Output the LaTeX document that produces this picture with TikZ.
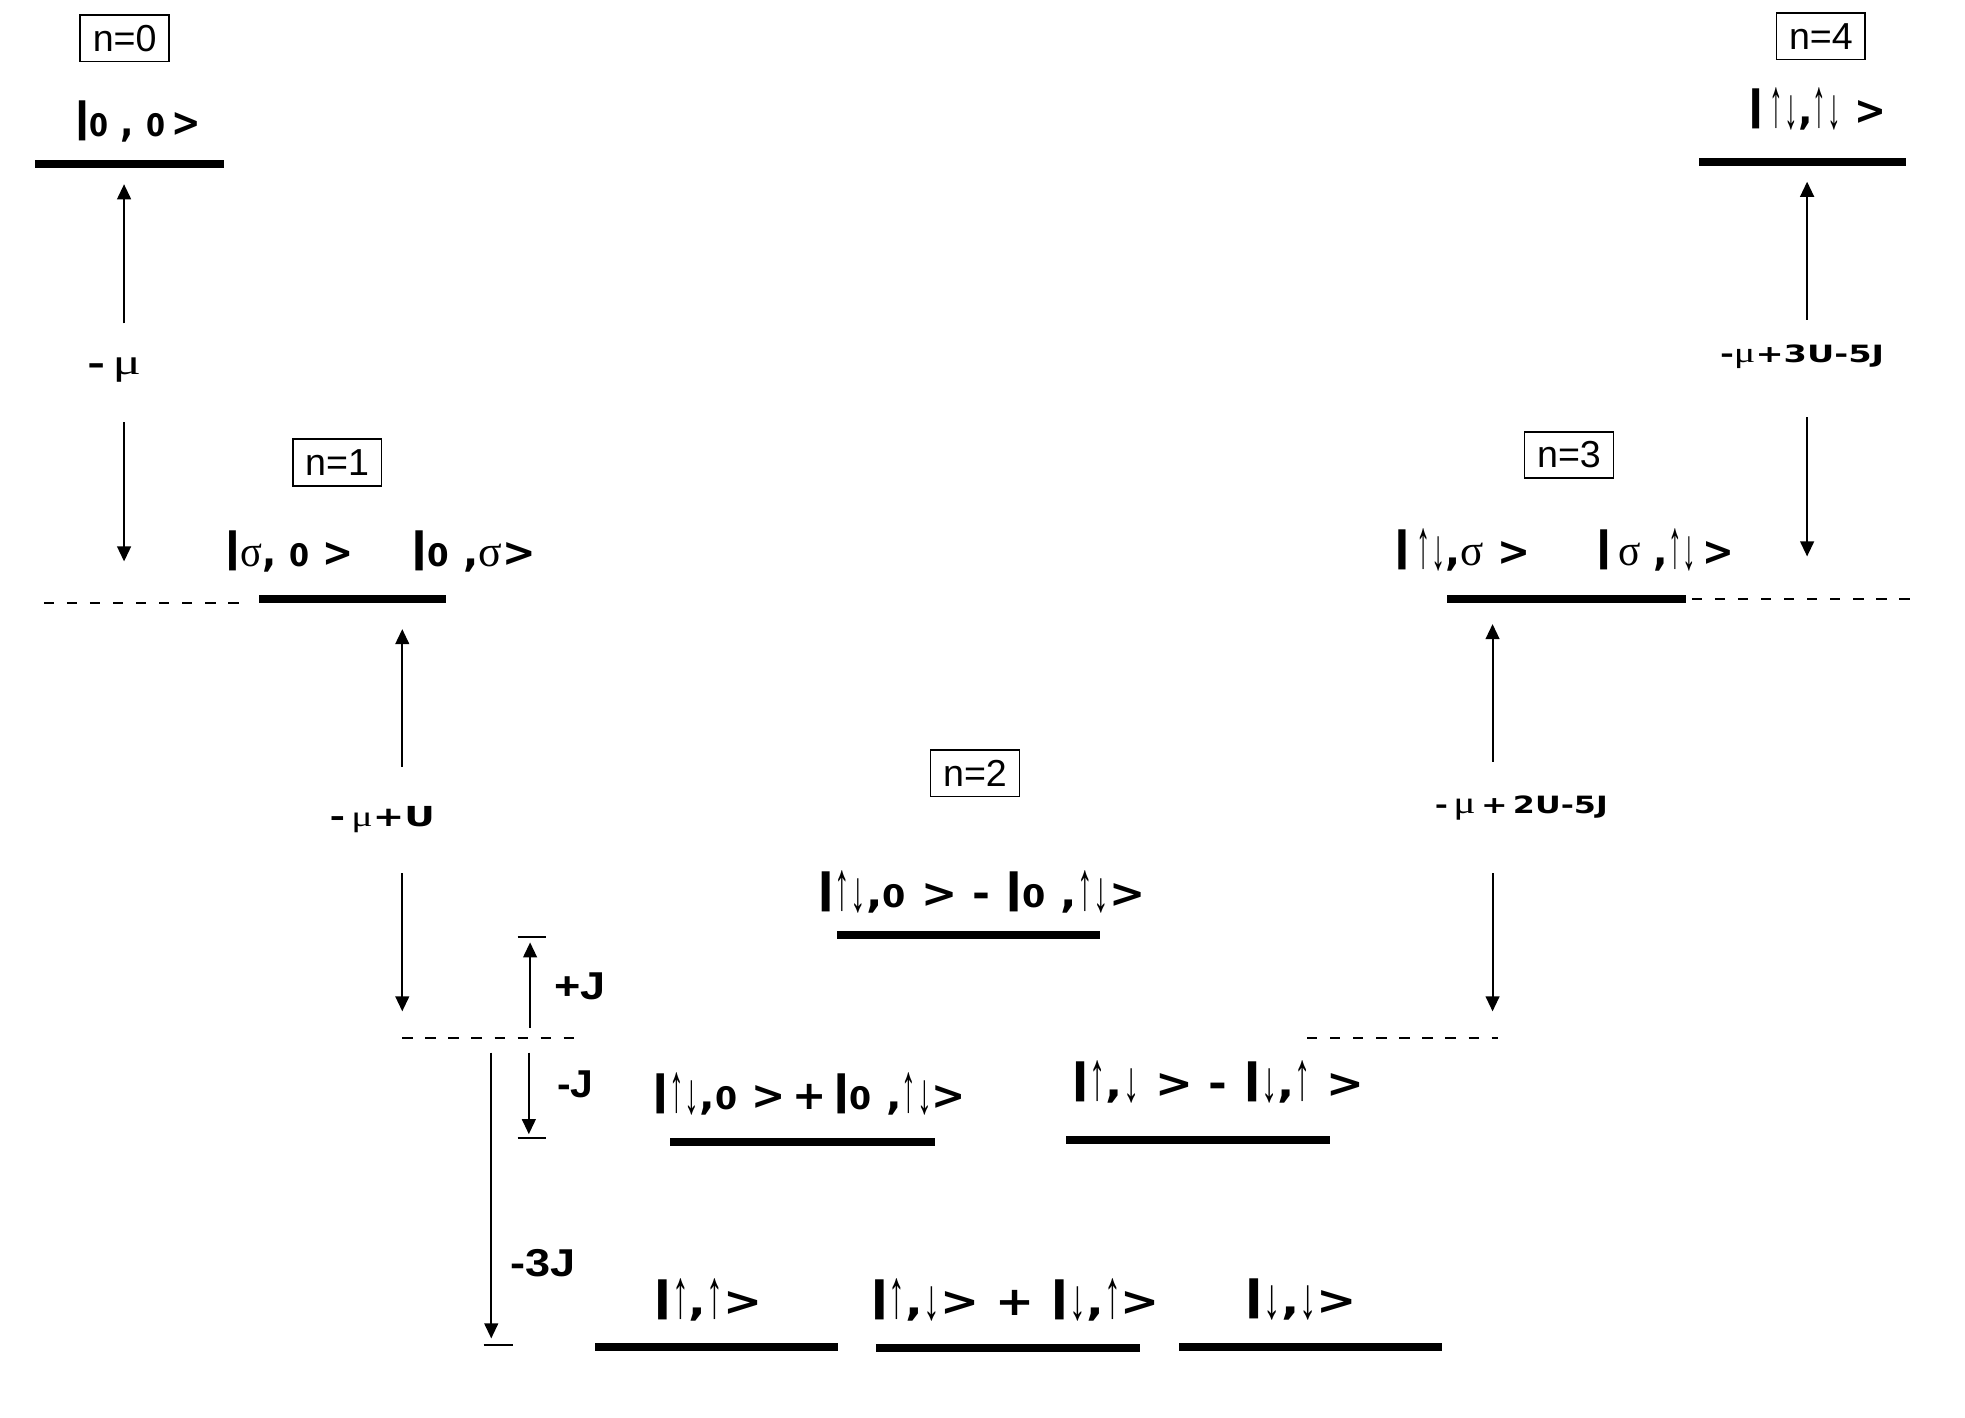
\documentclass[tikz,border=0pt]{standalone}
\usepackage{fontspec}
\usepackage{graphicx}
\setmainfont{Liberation Sans}
\newfontfamily\gfont{Liberation Serif}
\newfontfamily\kfont{DejaVu Sans}
\newfontfamily\afont{Liberation Sans}
\usetikzlibrary{arrows.meta}
\newcommand\Lift[1]{\raisebox{\depth}{#1}}
\newcommand\Br{\raisebox{-0.11em}{\resizebox*{0.4em}{1.0em}{\Lift{\afont\bfseries |}}}}
\newcommand\Zs{{\fontsize{12.4}{12.4}\selectfont 0}}
\newcommand\Sg{{\gfont\mdseries\fontsize{17.5}{17.5}\selectfont σ}}
\newcommand\Mu{{\gfont\mdseries μ}}
\newcommand\Au{\raisebox{-0.1em}{\resizebox*{0.36em}{1.02em}{\Lift{\afont\bfseries ↑}}}}
\newcommand\Ad{\raisebox{-0.14em}{\resizebox*{0.36em}{0.86em}{\Lift{\afont\bfseries ↓}}}}
\newcommand\Aud{\Au\kern0.02em\Ad}
\newcommand\fw[2]{\resizebox{#1}{\height}{#2}}
\begin{document}
\begin{tikzpicture}[x=0.5pt,y=-0.5pt,
  level/.style={line width=3.2pt},
  gap/.style={line width=0.7pt, dash pattern=on 4.1pt off 5.1pt},
  tip/.style={line width=0.75pt, -{Triangle[width=5.5pt,length=6pt]}},
  tick/.style={line width=0.8pt},
  nbox/.style={draw, line width=0.7pt, font=\fontsize{15}{17}\selectfont, inner xsep=5pt, inner ysep=3pt, minimum height=18.5pt},
  ket/.style={font=\kfont\fontsize{16}{18}\selectfont\bfseries, inner sep=0pt},
  jlab/.style={font=\afont\fontsize{15.5}{18}\selectfont\bfseries, inner sep=0pt},
  elab/.style={inner sep=0pt},
]
\useasboundingbox (0,0) rectangle (1568,1131);

% n boxes
\node[nbox] (n0) at (99.5,30.5) {n=0};
\node[nbox] (n1) at (269,369) {n=1};
\node[nbox] (n2) at (778,617) {n=2};
\node[nbox] (n3) at (1252,363) {n=3};
\node[nbox] (n4) at (1453,29) {n=4};

% kets
\node[ket] (k00) at (110,97) {\fw{50pt}{\Br\Zs\ ,\ \Zs\,>}};
\node[ket] (ks0) at (231,440) {\fw{51pt}{\Br\Sg,\ \Zs\ >}};
\node[ket] (k0s) at (378,440) {\fw{49.5pt}{\Br\Zs\ ,\Sg>}};
\node[ket] (kds) at (1167,439) {\fw{54.5pt}{\Br\,\Aud,\Sg\ >}};
\node[ket] (ksd) at (1329,439) {\fw{55pt}{\Br\,\Sg\ ,\Aud\,>}};
\node[ket] (kdd) at (1450,87) {\fw{55pt}{\Br\,\Aud,\Aud\ >}};
\node[ket] (kA) at (783,712) {\fw{131pt}{\Br\Aud,\Zs\ >\ -\ \Br\Zs\ ,\Aud>}};
\node[ket] (kB) at (646,873) {\fw{125pt}{\Br\Aud,\Zs\ >\,+\,\Br\Zs\ ,\Aud>}};
\node[ket] (kC) at (972,863) {\fw{117pt}{\Br\Au,\Ad\ >\ -\ \Br\Ad,\Au\ >}};
\node[ket] (kD) at (565,1037) {\fw{43.5pt}{\Br\Au,\Au>}};
\node[ket] (kE) at (810,1037) {\fw{115.5pt}{\Br\Au,\Ad>\ +\ \Br\Ad,\Au>}};
\node[ket] (kF) at (1038,1037) {\fw{45pt}{\Br\Ad,\Ad>}};

% levels
\draw[level] (28,131) coordinate (L0a) -- (179,131) coordinate (L0b);
\draw[level] (207,478) coordinate (L1a) -- (356,478) coordinate (L1b);
\draw[level] (1155,478) coordinate (L3a) -- (1345,478) coordinate (L3b);
\draw[level] (1356,129) coordinate (L4a) -- (1521,129) coordinate (L4b);
\draw[level] (668,746) coordinate (L2a) -- (878,746) coordinate (L2aa);
\draw[level] (535,911) coordinate (L2b) -- (746,911) coordinate (L2bb);
\draw[level] (851,910) coordinate (L2c) -- (1061,910) coordinate (L2cc);
\draw[level] (475,1075) coordinate (L2d) -- (669,1075) coordinate (L2dd);
\draw[level] (699,1076) coordinate (L2e) -- (910,1076) coordinate (L2ee);
\draw[level] (941,1075) coordinate (L2f) -- (1151,1075) coordinate (L2ff);

% dashed reference levels
\draw[gap] (35,481) coordinate (D0a) -- (195,481) coordinate (D0b);
\draw[gap] (321,828) coordinate (D1a) -- (460,828) coordinate (D1b);
\draw[gap] (1043,828) coordinate (D2a) -- (1195,828) coordinate (D2b);
\draw[gap] (1350,478) coordinate (D3a) -- (1525,478) coordinate (D3b);

% energy labels
\node[elab, font=\kfont\fontsize{12}{14}\selectfont\bfseries] (e0) at (91,295)
  {\fw{21.5pt}{-\,{\fontsize{14.5}{16}\selectfont\Mu}}};
\node[elab, font=\kfont\fontsize{11}{13}\selectfont\bfseries] (e1) at (305,654)
  {\fw{42pt}{-\,{\fontsize{11.7}{13}\selectfont\Mu}+U}};
\node[elab, font=\kfont\fontsize{9.5}{11}\selectfont\bfseries] (e2) at (1214,645)
  {\fw{69pt}{-\,{\fontsize{12.5}{14}\selectfont\Mu}\,+\,2U-5J}};
\node[elab, font=\kfont\fontsize{9.5}{11}\selectfont\bfseries] (e3) at (1438,285)
  {\fw{65.5pt}{-{\fontsize{11.4}{13}\selectfont\Mu}+3U-5J}};
\node[jlab] (eJp) at (463,787) {\fw{20.5pt}{+J}};
\node[jlab] (eJm) at (459,865) {\fw{14.5pt}{-J}};
\node[jlab] (eJ3) at (433,1008) {\fw{26pt}{-3J}};

% arrow end coordinates
\coordinate (a0u) at (99,258); \coordinate (a0t) at (99,147);
\coordinate (a0d) at (99,337); \coordinate (a0b) at (99,448);
\coordinate (a1u) at (321,612); \coordinate (a1t) at (321,502);
\coordinate (a1d) at (321,697); \coordinate (a1b) at (321,807);
\coordinate (a2u) at (1191,608); \coordinate (a2t) at (1191,498);
\coordinate (a2d) at (1191,697); \coordinate (a2b) at (1191,807);
\coordinate (a3u) at (1442,255); \coordinate (a3t) at (1442,145);
\coordinate (a3d) at (1442,333); \coordinate (a3b) at (1442,444);
\draw[tip] (a0u) -- (a0t); \draw[tip] (a0d) -- (a0b);
\draw[tip] (a1u) -- (a1t); \draw[tip] (a1d) -- (a1b);
\draw[tip] (a2u) -- (a2t); \draw[tip] (a2d) -- (a2b);
\draw[tip] (a3u) -- (a3t); \draw[tip] (a3d) -- (a3b);

% J splittings
\coordinate (jp0) at (423,820); \coordinate (jp1) at (423,752);
\coordinate (jm0) at (422,840); \coordinate (jm1) at (422,905);
\coordinate (j30) at (392,840); \coordinate (j31) at (392,1068);
\draw[tip] (jp0) -- (jp1);
\draw[tip] (jm0) -- (jm1);
\draw[tip] (j30) -- (j31);
\draw[tick] (413,748) coordinate (tpa) -- (436,748) coordinate (tpb);
\draw[tick] (413,908) coordinate (tma) -- (436,908) coordinate (tmb);
\draw[tick] (386,1073) coordinate (t3a) -- (409,1073) coordinate (t3b);
\end{tikzpicture}
\end{document}
